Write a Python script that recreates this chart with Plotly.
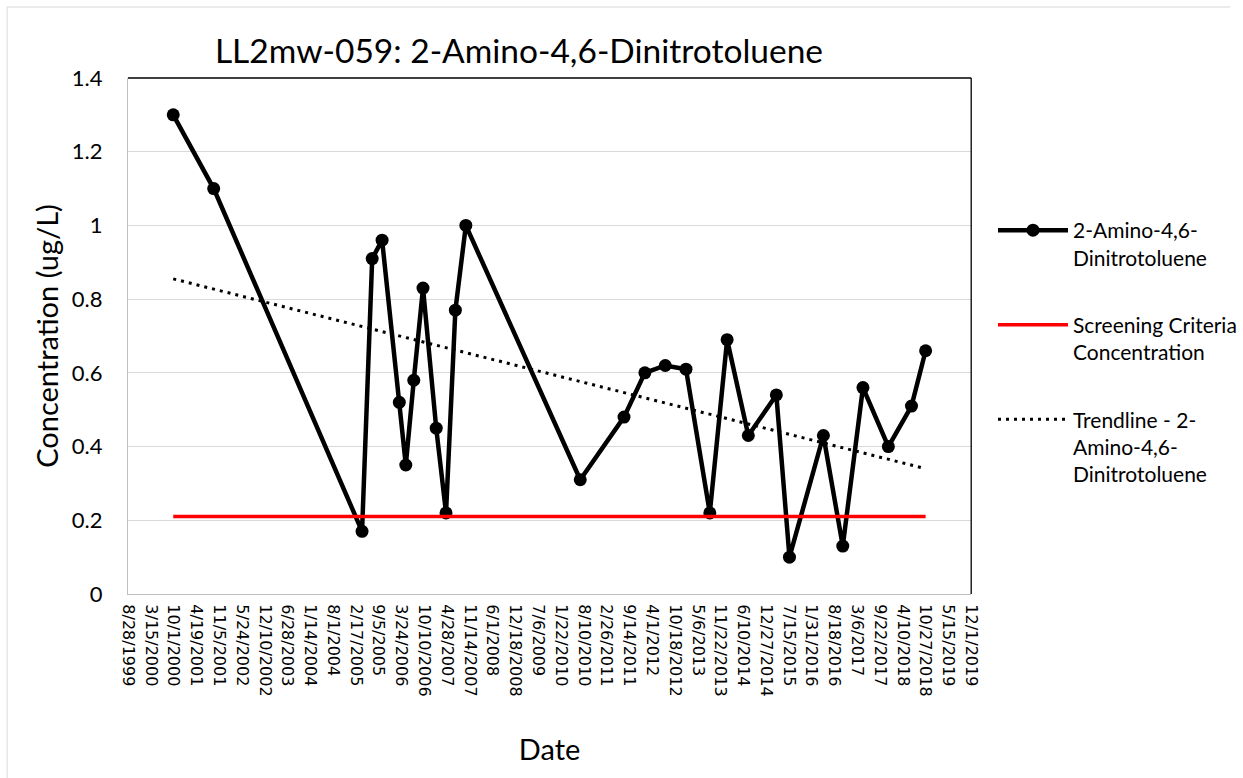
import plotly.graph_objects as go

# sample results
sample_dates = [
    "2000-09-28", "2001-09-18", "2005-04-12", "2005-07-10", "2005-10-05",
    "2006-03-05", "2006-05-01", "2006-07-10", "2006-09-29", "2007-01-23",
    "2007-04-19", "2007-07-10", "2007-10-10", "2010-07-10", "2011-07-29",
    "2012-01-28", "2012-07-25", "2013-01-23", "2013-08-20", "2014-01-19",
    "2014-07-24", "2015-03-27", "2015-07-20", "2016-05-13", "2016-10-30",
    "2017-04-25", "2017-12-04", "2018-06-25", "2018-10-27",
]
concentration = [
    1.30, 1.10, 0.17, 0.91, 0.96,
    0.52, 0.35, 0.58, 0.83, 0.45,
    0.22, 0.77, 1.00, 0.31, 0.48,
    0.60, 0.62, 0.61, 0.22, 0.69,
    0.43, 0.54, 0.10, 0.43, 0.13,
    0.56, 0.40, 0.51, 0.66,
]

screening_value = 0.21
trend_values = [0.855, 0.34]

tick_labels = [
    "8/28/1999", "3/15/2000", "10/1/2000", "4/19/2001", "11/5/2001",
    "5/24/2002", "12/10/2002", "6/28/2003", "1/14/2004", "8/1/2004",
    "2/17/2005", "9/5/2005", "3/24/2006", "10/10/2006", "4/28/2007",
    "11/14/2007", "6/1/2008", "12/18/2008", "7/6/2009", "1/22/2010",
    "8/10/2010", "2/26/2011", "9/14/2011", "4/1/2012", "10/18/2012",
    "5/6/2013", "11/22/2013", "6/10/2014", "12/27/2014", "7/15/2015",
    "1/31/2016", "8/18/2016", "3/6/2017", "9/22/2017", "4/10/2018",
    "10/27/2018", "5/15/2019", "12/1/2019",
]


def to_iso(label):
    m, d, y = label.split("/")
    return f"{y}-{int(m):02d}-{int(d):02d}"


tick_vals = [to_iso(t) for t in tick_labels]
ends = [sample_dates[0], sample_dates[-1]]

FONT = "Lato, Carlito, Calibri, sans-serif"

fig = go.Figure()
fig.add_trace(go.Scatter(
    x=sample_dates, y=concentration, mode="lines+markers",
    name="2-Amino-4,6-<br>Dinitrotoluene", legendgroup="a",
    line=dict(color="black", width=4.5),
    marker=dict(color="black", size=13),
))
fig.add_trace(go.Scatter(
    x=ends, y=[screening_value, screening_value], mode="lines",
    name="Screening Criteria<br>Concentration", legendgroup="b",
    line=dict(color="#ff0000", width=3.5),
))
fig.add_trace(go.Scatter(
    x=ends, y=trend_values, mode="lines",
    name="Trendline - 2-<br>Amino-4,6-<br>Dinitrotoluene", legendgroup="c",
    line=dict(color="black", width=3, dash="3px,5px"),
))

# chart frame: black top/right edge of plot area, grey outer chart border
line_shapes = [
    (0, 1, 1, 1, "black"), (1, 0, 1, 1, "black"),
    (-0.1434, 1.1376, 1.307, 1.1376, "#d9d9d9"),
    (-0.1434, -0.3566, -0.1434, 1.1376, "#d9d9d9"),
]
for x0, y0, x1, y1, c in line_shapes:
    fig.add_shape(type="line", xref="paper", yref="paper", x0=x0, y0=y0, x1=x1, y1=y1,
                  line=dict(color=c, width=1.3 if c == "black" else 1))

fig.update_layout(
    width=1243, height=778,
    margin=dict(l=128, r=262, t=78, b=184),
    paper_bgcolor="white", plot_bgcolor="white",
    font=dict(family=FONT, color="black"),
    title=dict(text="LL2mw-059: 2-Amino-4,6-Dinitrotoluene", font=dict(size=33.5),
               x=519 / 1243, xanchor="center", y=1 - 51 / 778, yanchor="middle"),
    legend=dict(xref="container", yref="container", x=993 / 1243, y=1 - 210 / 778,
                xanchor="left", yanchor="top", font=dict(size=21),
                itemwidth=70, valign="top", traceorder="grouped", tracegroupgap=37,
                bgcolor="rgba(0,0,0,0)"),
    showlegend=True,
)
fig.update_xaxes(
    range=[tick_vals[0], tick_vals[-1]], tickmode="array",
    tickvals=tick_vals, ticktext=tick_labels, tickangle=90,
    tickfont=dict(family="DejaVu Sans", size=16), ticklabelstandoff=6,
    showgrid=False, showline=True, linecolor="#bfbfbf", linewidth=1.3, ticks="",
    title=dict(text="Date", font=dict(size=29), standoff=44),
)
fig.update_yaxes(
    range=[0, 1.4], dtick=0.2, tickfont=dict(size=22), ticklabelstandoff=20,
    showgrid=True, gridcolor="#d9d9d9", gridwidth=1.3, zeroline=False,
    showline=True, linecolor="#bfbfbf", linewidth=1.3, ticks="",
    title=dict(text="Concentration (ug/L)", font=dict(size=29), standoff=4),
)

# page body margin would shift the chart by 8px
fig.write_html("out.html", config={"displayModeBar": False},
               post_script="document.body.style.margin = '0';")
